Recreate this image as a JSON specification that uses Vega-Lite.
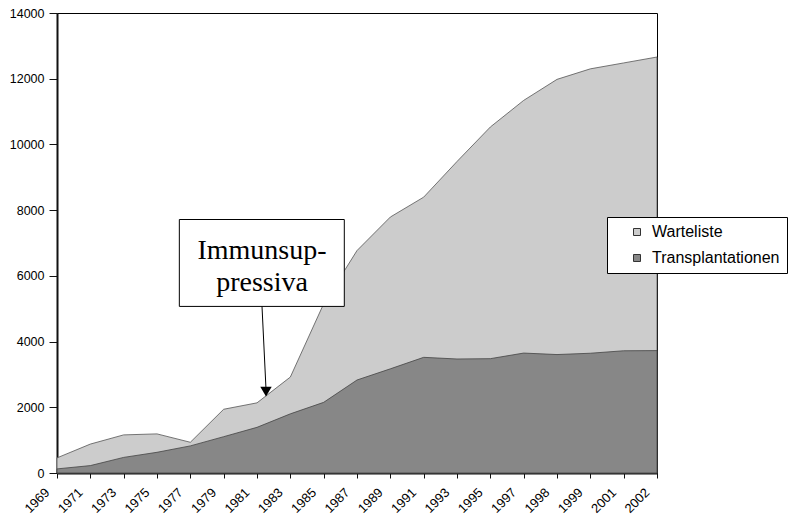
{
  "$schema": "https://vega.github.io/schema/vega-lite/v6.json",
  "width": 600,
  "height": 460,
  "autosize": {"type": "none"},
  "padding": {"left": 57, "top": 13, "right": 133, "bottom": 44},
  "background": "white",
  "config": {
    "view": {"stroke": "black", "strokeWidth": 1},
    "font": "Liberation Sans",
    "axis": {
      "title": null,
      "grid": false,
      "domainColor": "#111111",
      "domainWidth": 2,
      "tickColor": "#111111",
      "tickWidth": 1,
      "labelColor": "black",
      "labelFont": "Liberation Sans"
    }
  },
  "datasets": {
    "series": [
      {"year": "1969", "Warteliste": 460, "Transplantationen": 125},
      {"year": "1971", "Warteliste": 880, "Transplantationen": 225},
      {"year": "1973", "Warteliste": 1160, "Transplantationen": 475},
      {"year": "1975", "Warteliste": 1190, "Transplantationen": 630},
      {"year": "1977", "Warteliste": 935, "Transplantationen": 825},
      {"year": "1979", "Warteliste": 1940, "Transplantationen": 1105},
      {"year": "1981", "Warteliste": 2135, "Transplantationen": 1390},
      {"year": "1983", "Warteliste": 2920, "Transplantationen": 1800},
      {"year": "1985", "Warteliste": 5150, "Transplantationen": 2150},
      {"year": "1987", "Warteliste": 6770, "Transplantationen": 2830},
      {"year": "1989", "Warteliste": 7790, "Transplantationen": 3170},
      {"year": "1991", "Warteliste": 8395, "Transplantationen": 3520},
      {"year": "1993", "Warteliste": 9480, "Transplantationen": 3470},
      {"year": "1995", "Warteliste": 10530, "Transplantationen": 3480},
      {"year": "1997", "Warteliste": 11340, "Transplantationen": 3650},
      {"year": "1998", "Warteliste": 11980, "Transplantationen": 3605},
      {"year": "1999", "Warteliste": 12300, "Transplantationen": 3645},
      {"year": "2001", "Warteliste": 12480, "Transplantationen": 3720},
      {"year": "2002", "Warteliste": 12660, "Transplantationen": 3725}
    ],
    "note": [
      {"label": "Immunsuppressiva"}
    ]
  },
  "layer": [
    {
      "data": {"name": "series"},
      "mark": {"type": "area", "stroke": "#555555", "strokeWidth": 0.8, "opacity": 1},
      "encoding": {
        "x": {
          "field": "year", "type": "ordinal", "sort": null,
          "scale": {"type": "point", "padding": 0},
          "axis": {
            "labelAngle": -45, "labelAlign": "right", "labelBaseline": "middle",
            "labelFontSize": 13, "tickSize": 5, "labelPadding": 12, "labelOffset": -10
          }
        },
        "y": {
          "field": "Warteliste", "type": "quantitative",
          "scale": {"domain": [0, 14000], "nice": false},
          "axis": {
            "values": [0, 2000, 4000, 6000, 8000, 10000, 12000, 14000],
            "format": "d",
            "labelFontSize": 12.5, "tickSize": 8, "labelPadding": 5
          }
        },
        "color": {
          "datum": "Warteliste", "type": "nominal",
          "scale": {"domain": ["Warteliste", "Transplantationen"], "range": ["#CCCCCC", "#878787"]},
          "legend": {
            "title": null, "orient": "none", "legendX": 550, "legendY": 204,
            "direction": "vertical", "fillColor": "white", "strokeColor": "black",
            "padding": 7, "symbolType": "square", "symbolSize": 49,
            "symbolStrokeColor": "#333333", "symbolStrokeWidth": 1,
            "symbolOffset": 15, "labelOffset": 7, "labelFontSize": 16,
            "labelFont": "Liberation Sans", "labelColor": "black",
            "rowPadding": 10, "labelLimit": 300
          }
        }
      }
    },
    {
      "data": {"name": "series"},
      "mark": {"type": "area", "stroke": "#444444", "strokeWidth": 0.8, "opacity": 1},
      "encoding": {
        "x": {"field": "year", "type": "ordinal", "sort": null},
        "y": {"field": "Transplantationen", "type": "quantitative"},
        "color": {"datum": "Transplantationen", "type": "nominal"}
      }
    },
    {
      "data": {"name": "note"},
      "mark": {"type": "rect", "fill": "white", "stroke": "black", "strokeWidth": 1, "xOffset": -11, "x2Offset": -12.7},
      "encoding": {
        "x": {"datum": "1977", "type": "ordinal"},
        "x2": {"datum": "1987"},
        "y": {"datum": 7715, "type": "quantitative"},
        "y2": {"datum": 5070}
      }
    },
    {
      "data": {"name": "note"},
      "mark": {"type": "rule", "color": "black", "strokeWidth": 1, "xOffset": 5, "x2Offset": 9},
      "encoding": {
        "x": {"datum": "1981", "type": "ordinal"},
        "x2": {"datum": "1981"},
        "y": {"datum": 5070, "type": "quantitative"},
        "y2": {"datum": 2550}
      }
    },
    {
      "data": {"name": "note"},
      "mark": {"type": "point", "shape": "triangle-down", "filled": true, "color": "black", "size": 130, "opacity": 1, "xOffset": 9},
      "encoding": {
        "x": {"datum": "1981", "type": "ordinal"},
        "y": {"datum": 2476, "type": "quantitative"}
      }
    },
    {
      "data": {"name": "note"},
      "mark": {
        "type": "text", "font": "Liberation Serif", "fontSize": 28, "lineHeight": 32,
        "fontWeight": "normal",
        "align": "center", "baseline": "middle", "xOffset": 5, "fill": "black",
        "text": ["Immunsup-", "pressiva"]
      },
      "encoding": {
        "x": {"datum": "1981", "type": "ordinal"},
        "y": {"datum": 6771, "type": "quantitative"}
      }
    }
  ]
}
